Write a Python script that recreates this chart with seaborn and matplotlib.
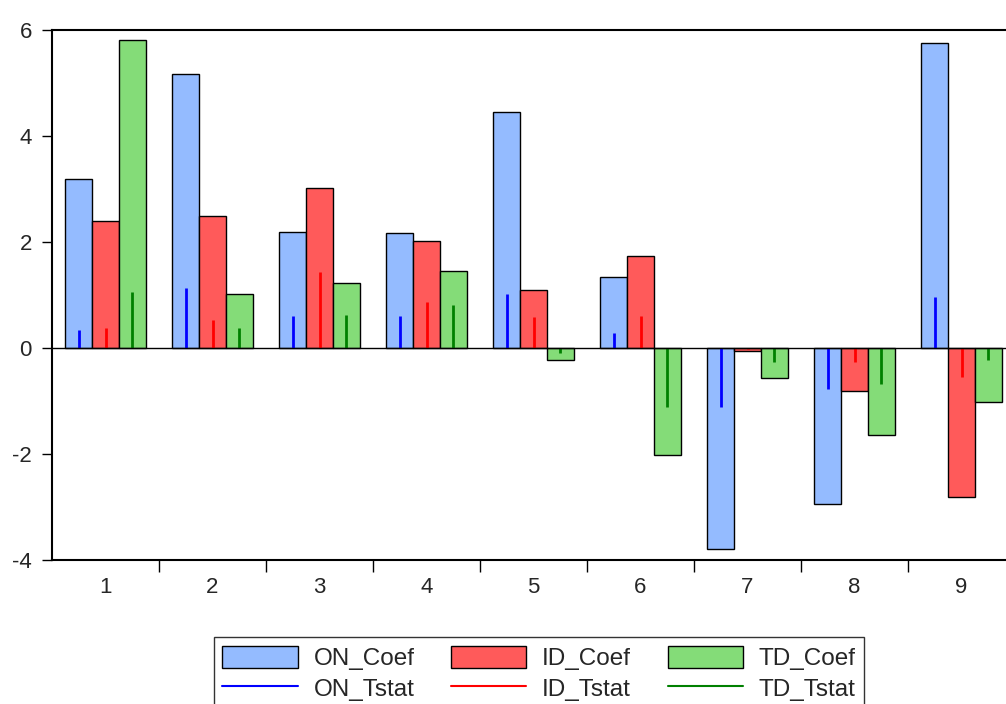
import numpy as np
import pandas as pd
import seaborn as sns
import matplotlib as mpl
import matplotlib.pyplot as plt
from matplotlib.lines import Line2D
from matplotlib.patches import Patch

sns.set_style("white")
plt.rcParams['font.family'] = ['Liberation Sans', 'DejaVu Sans']

# data
periods = ["1", "2", "3", "4", "5", "6", "7", "8", "9"]
on_coef = [3.18, 5.17, 2.19, 2.17, 4.46, 1.34, -3.80, -2.94, 5.75]
id_coef = [2.40, 2.49, 3.02, 2.02, 1.10, 1.74, -0.05, -0.82, -2.82]
td_coef = [5.81, 1.01, 1.23, 1.46, -0.23, -2.01, -0.57, -1.64, -1.01]
on_tstat = [0.34, 1.13, 0.60, 0.60, 1.02, 0.28, -1.11, -0.77, 0.96]
id_tstat = [0.38, 0.53, 1.43, 0.87, 0.59, 0.60, -0.02, -0.27, -0.55]
td_tstat = [1.06, 0.37, 0.62, 0.81, -0.10, -1.11, -0.26, -0.67, -0.23]

series = ["ON_Coef", "ID_Coef", "TD_Coef"]
bar_cols = ["#94BBFF", "#FF5A5A", "#84DC78"]
line_cols = ["#0000FF", "#FF0000", "#008000"]

df = pd.DataFrame({
    "period": periods * 3,
    "value": on_coef + id_coef + td_coef,
    "series": np.repeat(series, len(periods)),
})

fig = plt.figure(figsize=(10.06, 7.04), dpi=100)
ax = fig.add_axes([52 / 1006, 144 / 704, 963 / 1006, 530 / 704])

sns.barplot(data=df, x="period", y="value", hue="series", hue_order=series,
            palette=bar_cols, width=0.75, edgecolor="black", linewidth=1,
            saturation=1, legend=False, ax=ax)

# t-stat lines in the middle of each bar
for cont, ts, c in zip(ax.containers, [on_tstat, id_tstat, td_tstat], line_cols):
    xs = [p.get_x() + p.get_width() / 2 for p in cont.patches]
    ax.vlines(xs, 0, ts, color=c, lw=2, zorder=3)

ax.axhline(0, color="black", lw=1, zorder=4)
ax.set_xlim(-0.5, 8.5)
ax.set_ylim(-4, 6)
ax.set_yticks([-4, -2, 0, 2, 4, 6])
ax.set_yticklabels(["-4", "-2", "0", "2", "4", "6"])
ax.set_xticks(np.arange(0.5, 8, 1), minor=True)
ax.tick_params(axis="x", which="major", length=0, labelsize=16, pad=12)
ax.tick_params(axis="x", which="minor", length=8.5, width=1, color="black", direction="out", bottom=True)
ax.tick_params(axis="y", length=7.5, width=1, color="black", direction="out", labelsize=16, left=True, pad=7)
ax.set_xlabel("")
ax.set_ylabel("")
for s in ax.spines.values():
    s.set_color("black")
    s.set_linewidth(1.5)

handles = []
for name, bc, lc in zip(["ON", "ID", "TD"], bar_cols, line_cols):
    handles.append(Patch(facecolor=bc, edgecolor="black", label=name + "_Coef"))
    handles.append(Line2D([0], [0], color=lc, lw=1.5, label=name + "_Tstat"))
leg = fig.legend(handles=handles, ncol=3, loc="upper center",
                 bbox_to_anchor=(539 / 1006, 1 - 637 / 704), borderaxespad=0,
                 fontsize=17.5, frameon=True, fancybox=False, edgecolor="black",
                 handlelength=3.1, handleheight=1.05, handletextpad=0.65,
                 columnspacing=1.5, labelspacing=0.25, borderpad=0.35)
leg.get_frame().set_linewidth(1)

fig.savefig("out.png", dpi=100)
